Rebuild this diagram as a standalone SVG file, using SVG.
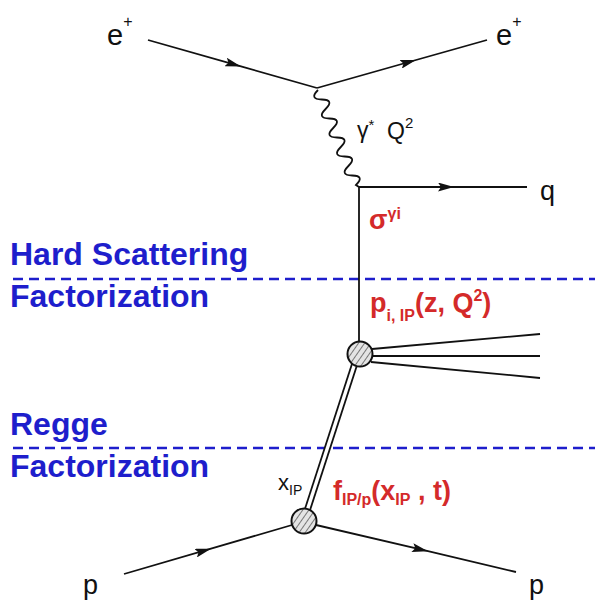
<svg xmlns="http://www.w3.org/2000/svg" width="595" height="600" viewBox="0 0 595 600">
  <style>
    .ln { fill: none; stroke: #111; stroke-width: 1.8; }
    .arr { fill: none; stroke: #111; stroke-width: 1.8; marker-mid: url(#ah); }
    .blob { fill: url(#hatch); stroke: #111; stroke-width: 2; }
    .lbl { font-family: "Liberation Sans", Arial, sans-serif; fill: #111; }
    .red { font-family: "Liberation Sans", Arial, sans-serif; fill: #d42a2a; font-weight: bold; }
    .blue { font-family: "Liberation Sans", Arial, sans-serif; fill: #1e1ecc; font-weight: bold; font-size: 32px; }
    .dash { stroke: #1e1ecc; stroke-width: 2.6; stroke-dasharray: 10 6; fill: none; }
  </style>
  <defs>
    <marker id="ah" viewBox="0 0 16 9" refX="16" refY="4.5" markerWidth="16" markerHeight="9" markerUnits="userSpaceOnUse" orient="auto">
      <path d="M0,0 L16,4.5 L0,9 L3,4.5 Z" fill="#111"/>
    </marker>
    <pattern id="hatch" patternUnits="userSpaceOnUse" width="5" height="5" patternTransform="rotate(35)">
      <rect width="5" height="5" fill="#e4e4e4"/>
      <line x1="0" y1="0" x2="0" y2="5" stroke="#777" stroke-width="2"/>
    </pattern>
  </defs>

  <g id="regions">
    <line class="dash" x1="13" y1="279" x2="595" y2="279"/>
    <line class="dash" x1="13" y1="448" x2="595" y2="448"/>
    <text class="blue" x="10" y="265">Hard Scattering</text>
    <text class="blue" x="10" y="307">Factorization</text>
    <text class="blue" x="10" y="435">Regge</text>
    <text class="blue" x="10" y="477">Factorization</text>
  </g>

  <g id="connectors">
    <path class="arr" d="M148,40 L241,66.4 L317,88"/>
    <path class="arr" d="M317,88 L416,60 L487,40"/>
    <path class="ln" d="M318,90 Q308.8,99.2 321.8,99.5 Q334.8,99.8 325.6,109 Q316.4,118.2 329.4,118.5 Q342.4,118.8 333.2,128 Q324,137.2 337,137.5 Q350,137.8 340.8,147 Q331.6,156.2 344.6,156.5 Q357.6,156.8 348.4,166 Q339.2,175.2 352.2,175.5 Q365.2,175.8 356,185 L359,187"/>
    <path class="arr" d="M359,187 L454,187 L527,187"/>
    <line class="ln" x1="359" y1="187" x2="359" y2="342"/>
    <line class="ln" x1="372" y1="349" x2="540" y2="334"/>
    <line class="ln" x1="373" y1="356" x2="540" y2="356"/>
    <line class="ln" x1="371" y1="362" x2="540" y2="378"/>
    <line x1="355" y1="363" x2="307" y2="511" stroke="#111" stroke-width="7"/>
    <line x1="355" y1="363" x2="307" y2="511" stroke="#fff" stroke-width="3.4"/>
    <path class="arr" d="M124,574 L211,548.7 L292,525"/>
    <path class="arr" d="M316,525 L428,551.2 L516,572"/>
  </g>

  <g id="vertex-top">
    <circle class="blob" cx="360" cy="354" r="12.5"/>
  </g>
  <g id="vertex-bottom">
    <circle class="blob" cx="304" cy="521" r="12.5"/>
  </g>

  <g id="labels">
    <text class="lbl" x="107" y="45" font-size="29">e<tspan font-size="16" dy="-18">+</tspan></text>
    <text class="lbl" x="496" y="45" font-size="29">e<tspan font-size="16" dy="-18">+</tspan></text>
    <text class="lbl" x="357" y="138" font-size="23">γ<tspan font-size="15" dy="-8">*</tspan></text>
    <text class="lbl" x="387" y="139" font-size="23">Q<tspan font-size="15" dy="-11">2</tspan></text>
    <text class="lbl" x="540" y="200" font-size="27">q</text>
    <text class="lbl" x="278" y="490" font-size="22">x<tspan font-size="14" dy="5">IP</tspan></text>
    <text class="lbl" x="83" y="594" font-size="27">p</text>
    <text class="lbl" x="529" y="594" font-size="27">p</text>
    <text class="red" x="369" y="229" font-size="27" font-weight="normal">σ<tspan font-size="16" dy="-10" font-weight="bold">γi</tspan></text>
    <text class="red" x="370" y="312" font-size="27">p<tspan font-size="16" dy="9">i, IP</tspan><tspan dy="-9">(z, Q</tspan><tspan font-size="16" dy="-11">2</tspan><tspan dy="11">)</tspan></text>
    <text class="red" x="333" y="500" font-size="27">f<tspan font-size="16" dy="5">IP/p</tspan><tspan dy="-5">(x</tspan><tspan font-size="16" dy="5">IP</tspan><tspan dy="-5"> , t)</tspan></text>
  </g>
</svg>
